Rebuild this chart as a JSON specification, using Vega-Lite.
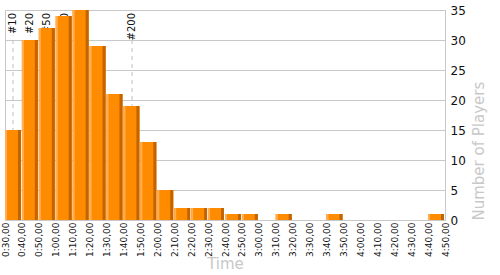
{
  "$schema": "https://vega.github.io/schema/vega-lite/v6.json",
  "width": 440,
  "height": 210,
  "autosize": {"type": "none"},
  "padding": {"left": 5, "top": 10, "right": 55, "bottom": 55},
  "background": "white",
  "config": {
    "view": {"stroke": "#c8c8c8", "strokeWidth": 1},
    "font": "DejaVu Sans",
    "axis": {"gridColor": "#c8c8c8", "gridOpacity": 1, "domainColor": "#c8c8c8", "ticks": false, "labelColor": "#111", "titleColor": "#c8c8c8", "titleFontWeight": "normal", "titleFont": "DejaVu Sans", "labelFont": "DejaVu Sans", "labelOverlap": false}
  },
  "datasets": {
    "bins": [
      {"start": 30, "end": 40, "players": 15},
      {"start": 40, "end": 50, "players": 30},
      {"start": 50, "end": 60, "players": 32},
      {"start": 60, "end": 70, "players": 34},
      {"start": 70, "end": 80, "players": 35},
      {"start": 80, "end": 90, "players": 29},
      {"start": 90, "end": 100, "players": 21},
      {"start": 100, "end": 110, "players": 19},
      {"start": 110, "end": 120, "players": 13},
      {"start": 120, "end": 130, "players": 5},
      {"start": 130, "end": 140, "players": 2},
      {"start": 140, "end": 150, "players": 2},
      {"start": 150, "end": 160, "players": 2},
      {"start": 160, "end": 170, "players": 1},
      {"start": 170, "end": 180, "players": 1},
      {"start": 190, "end": 200, "players": 1},
      {"start": 220, "end": 230, "players": 1},
      {"start": 280, "end": 290, "players": 1}
    ],
    "marks": [
      {"rank": "#10", "t": 34.7},
      {"rank": "#20", "t": 44.8},
      {"rank": "#50", "t": 54.8},
      {"rank": "#100", "t": 65.4},
      {"rank": "#200", "t": 105.1}
    ]
  },
  "layer": [
    {
      "data": {"name": "bins"},
      "mark": {"type": "bar", "color": "#ff8c00", "x2Offset": -1},
      "encoding": {
        "x": {"field": "start", "type": "quantitative", "scale": {"domain": [30, 290], "nice": false, "zero": false},
          "axis": {"values": [30,40,50,60,70,80,90,100,110,120,130,140,150,160,170,180,190,200,210,220,230,240,250,260,270,280,290], "tickCount": 40,
            "labelExpr": "floor(datum.value/60) + ':' + (datum.value % 60 < 10 ? '0' : '') + (datum.value % 60) + ',00'",
            "labelAngle": 270, "labelAlign": "right", "labelBaseline": "middle", "labelFontSize": 9, "labelPadding": 2,
            "grid": false, "title": "Time", "titleFontSize": 15, "titlePadding": 0, "labelOverlap": false, "labelBound": false, "labelFlush": false}},
        "x2": {"field": "end"},
        "y": {"field": "players", "type": "quantitative", "scale": {"domain": [0, 35], "nice": false},
          "axis": {"orient": "right", "values": [0,5,10,15,20,25,30,35], "tickCount": 20, "grid": true, "labelFontSize": 12, "labelPadding": 5, "labelOverlap": false, "title": "Number of Players", "titleFontSize": 15, "titleAngle": 270, "titleAnchor": "start", "titlePadding": 6, "titleBaseline": "top"}},
        "y2": {"datum": 0}
      }
    },
    {
      "data": {"name": "marks"},
      "mark": {"type": "rule", "color": "#c0c0c0", "strokeDash": [4, 4], "strokeWidth": 1},
      "encoding": {
        "x": {"field": "t", "type": "quantitative"},
        "y": {"datum": 0, "type": "quantitative"},
        "y2": {"datum": 30.8}
      }
    },
    {
      "data": {"name": "marks"},
      "mark": {"type": "text", "angle": 270, "align": "right", "baseline": "middle", "fontSize": 10, "dx": -3, "color": "#111"},
      "encoding": {
        "x": {"field": "t", "type": "quantitative"},
        "y": {"datum": 35, "type": "quantitative"},
        "text": {"field": "rank"}
      }
    },
    {
      "data": {"name": "bins"},
      "mark": {"type": "bar", "color": "#ff8c00", "x2Offset": -1},
      "encoding": {
        "x": {"field": "start", "type": "quantitative"},
        "x2": {"field": "end"},
        "y": {"field": "players", "type": "quantitative"},
        "y2": {"datum": 0}
      }
    },
    {
      "data": {"name": "bins"},
      "mark": {"type": "bar", "color": "#ffae55", "x2Offset": 2},
      "encoding": {
        "x": {"field": "start", "type": "quantitative"},
        "x2": {"field": "start"},
        "y": {"field": "players", "type": "quantitative"},
        "y2": {"datum": 0}
      }
    },
    {
      "data": {"name": "bins"},
      "mark": {"type": "bar", "color": "#c46400", "xOffset": -4, "x2Offset": -1},
      "encoding": {
        "x": {"field": "end", "type": "quantitative"},
        "x2": {"field": "end"},
        "y": {"field": "players", "type": "quantitative"},
        "y2": {"datum": 0}
      }
    }
  ]
}
